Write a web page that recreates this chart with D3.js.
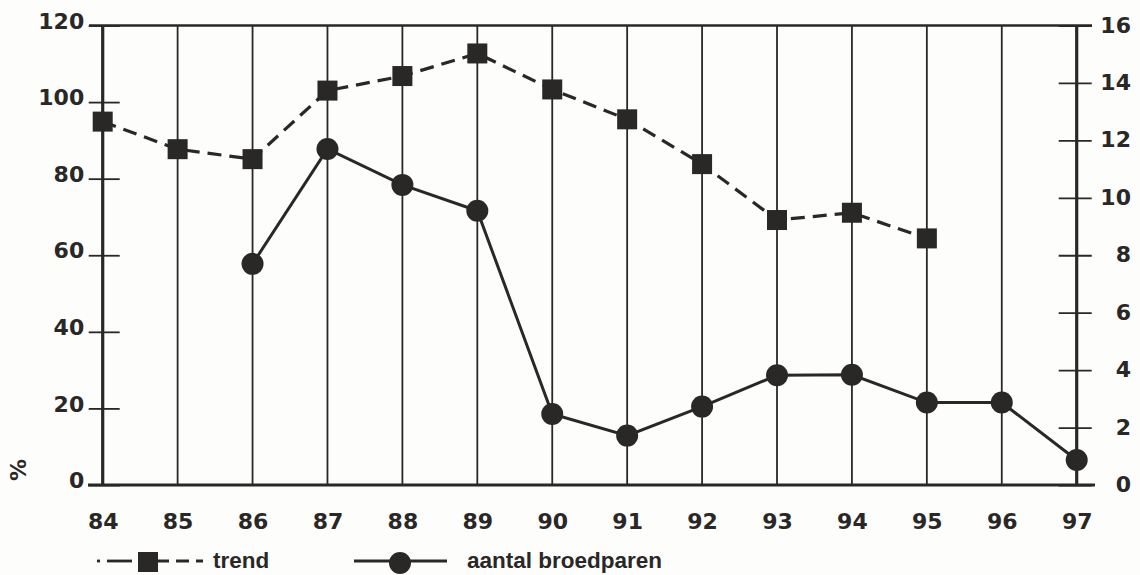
<!DOCTYPE html>
<html>
<head>
<meta charset="utf-8">
<script src="https://cdn.jsdelivr.net/npm/d3@7/dist/d3.min.js"></script>
<style>
  html, body { margin: 0; padding: 0; background: #fdfdfc; }
  svg { display: block; }
  text { font-family: "Liberation Sans", Arial, Helvetica, sans-serif; font-weight: bold; fill: #2a2727; }
  .num { font-family: "DejaVu Sans", "Liberation Sans", sans-serif; }
</style>
</head>
<body>
<svg id="chart" width="1140" height="575"></svg>
<script>
// ---- data ----
const years = ["84","85","86","87","88","89","90","91","92","93","94","95","96","97"];
const trend = [94.9, 87.7, 85.1, 103.0, 106.8, 112.7, 103.3, 95.5, 83.8, 69.2, 71.1, 64.4, null, null]; // % (left axis)
const pairs = [null, null, 7.7, 11.7, 10.45, 9.55, 2.47, 1.72, 2.73, 3.82, 3.84, 2.87, 2.87, 0.87]; // aantal broedparen (right axis)
const leftTicks = [0, 20, 40, 60, 80, 100, 120];
const rightTicks = [0, 2, 4, 6, 8, 10, 12, 14, 16];
const legendLabels = ["trend", "aantal broedparen"];
const yLabel = "%";

// ---- layout ----
const ink = "#2a2727";
const X0 = 102.7, X1 = 1076.7, YT = 25.5, YB = 485;
const svg = d3.select("#chart");

const x = d3.scalePoint().domain(years).range([X0, X1]).padding(0);
const yL = d3.scaleLinear().domain([0, 120]).range([YB, YT]);
const yR = d3.scaleLinear().domain([0, 16]).range([YB, YT]);

// vertical grid lines
svg.append("g").selectAll("line").data(years).join("line")
  .attr("x1", d => x(d)).attr("x2", d => x(d))
  .attr("y1", YT).attr("y2", YB)
  .attr("stroke", ink)
  .attr("stroke-width", (d, i) => (i === 0 || i === years.length - 1) ? 3.2 : 1.8);

// top and bottom frame lines
svg.append("line").attr("x1", 89).attr("x2", 1092).attr("y1", YT).attr("y2", YT)
  .attr("stroke", ink).attr("stroke-width", 2.6);
svg.append("line").attr("x1", 88).attr("x2", 1095).attr("y1", YB).attr("y2", YB)
  .attr("stroke", ink).attr("stroke-width", 3.2);

// left axis
const gL = svg.append("g").attr("transform", `translate(${X0},0)`)
  .call(d3.axisLeft(yL).tickValues(leftTicks).tickSize(0).tickPadding(0));
gL.select(".domain").remove();
gL.selectAll(".tick line").attr("x1", -14).attr("x2", 17).attr("stroke", ink).attr("stroke-width", 1.8);
gL.selectAll(".tick text").attr("class", "num").attr("x", -18.5).attr("dy", "0.12em")
  .attr("font-size", 22).attr("font-family", null).attr("fill", ink);

// right axis
const gR = svg.append("g").attr("transform", `translate(${X1},0)`)
  .call(d3.axisRight(yR).tickValues(rightTicks).tickSize(0).tickPadding(0));
gR.select(".domain").remove();
gR.selectAll(".tick line").attr("x1", -18).attr("x2", 15).attr("stroke", ink).attr("stroke-width", 1.8);
gR.selectAll(".tick text").attr("class", "num").attr("x", 1131 - X1).attr("text-anchor", "end").attr("dy", "0.3em")
  .attr("font-size", 22).attr("font-family", null).attr("fill", ink);

// bottom axis labels
const gB = svg.append("g").attr("transform", `translate(0,${YB})`)
  .call(d3.axisBottom(x).tickSize(0).tickPadding(0));
gB.select(".domain").remove();
gB.selectAll(".tick text").attr("class", "num").attr("y", 36).attr("dy", "0.36em")
  .attr("font-size", 22).attr("font-family", null).attr("fill", ink);

// y label
svg.append("text").attr("class", "num").attr("transform", "translate(26,470) rotate(-90)")
  .attr("text-anchor", "middle").attr("font-size", 22).attr("font-weight", "normal").text(yLabel);

// trend line (dashed) with squares
const trendPts = years.map((y, i) => ({ y, v: trend[i] })).filter(d => d.v != null);
svg.append("path").datum(trendPts)
  .attr("d", d3.line().x(d => x(d.y)).y(d => yL(d.v)))
  .attr("fill", "none").attr("stroke", ink).attr("stroke-width", 3.2)
  .attr("stroke-dasharray", "14,8");
const sq = 20;
svg.append("g").selectAll("rect").data(trendPts).join("rect")
  .attr("x", d => x(d.y) - sq / 2).attr("y", d => yL(d.v) - sq / 2)
  .attr("width", sq).attr("height", sq).attr("fill", ink);

// breeding pairs line (solid) with circles
const pairPts = years.map((y, i) => ({ y, v: pairs[i] })).filter(d => d.v != null);
svg.append("path").datum(pairPts)
  .attr("d", d3.line().x(d => x(d.y)).y(d => yR(d.v)))
  .attr("fill", "none").attr("stroke", ink).attr("stroke-width", 3);
svg.append("g").selectAll("circle").data(pairPts).join("circle")
  .attr("cx", d => x(d.y)).attr("cy", d => yR(d.v)).attr("r", 11).attr("fill", ink);

// legend
const LY = 561;
const lg = svg.append("g");
// trend: dot-dash, square, dashes
lg.append("line").attr("x1", 97).attr("x2", 100).attr("y1", LY).attr("y2", LY).attr("stroke", ink).attr("stroke-width", 2.8);
lg.append("line").attr("x1", 107).attr("x2", 132).attr("y1", LY).attr("y2", LY).attr("stroke", ink).attr("stroke-width", 2.8);
lg.append("rect").attr("x", 148 - sq / 2).attr("y", LY - sq / 2 + 1).attr("width", sq).attr("height", sq).attr("fill", ink);
lg.append("line").attr("x1", 156).attr("x2", 203).attr("y1", LY).attr("y2", LY).attr("stroke", ink).attr("stroke-width", 2.8)
  .attr("stroke-dasharray", "13,7");
lg.append("text").attr("x", 213).attr("y", LY).attr("dy", "0.32em").attr("font-size", 22.5).text(legendLabels[0]);
// pairs: solid line with circle
lg.append("line").attr("x1", 354).attr("x2", 447).attr("y1", LY).attr("y2", LY).attr("stroke", ink).attr("stroke-width", 2.8);
lg.append("circle").attr("cx", 400).attr("cy", LY + 2).attr("r", 11).attr("fill", ink);
lg.append("text").attr("x", 467).attr("y", LY).attr("dy", "0.32em").attr("font-size", 22.5).text(legendLabels[1]);
</script>
</body>
</html>
